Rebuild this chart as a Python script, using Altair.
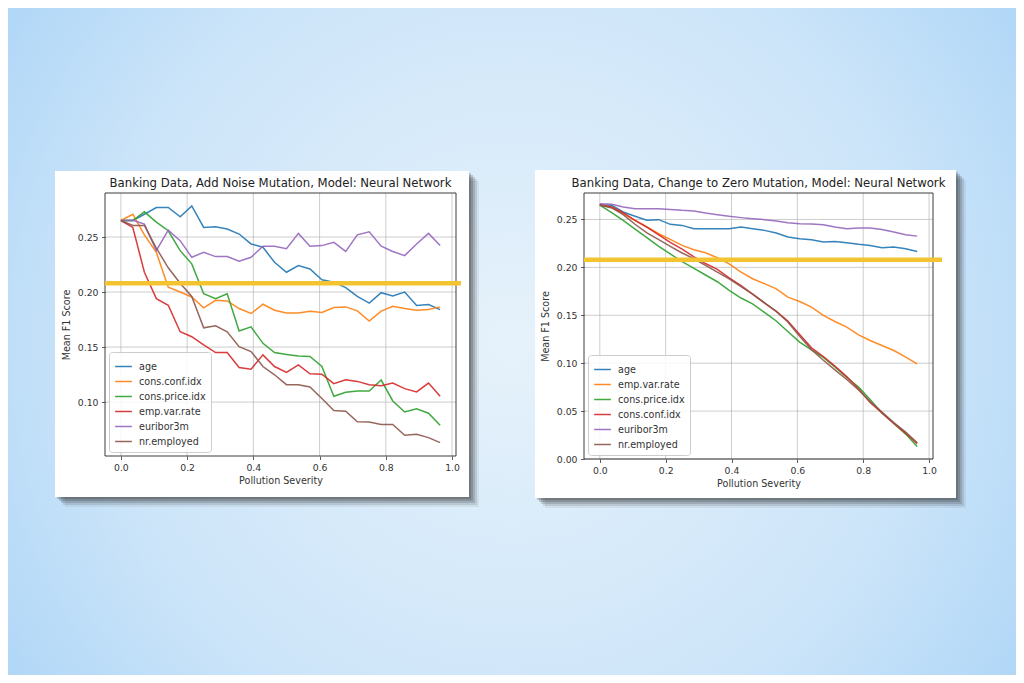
import altair as alt
import pandas as pd

# ---------------- data ----------------
severity = [0.0, 0.036, 0.071, 0.107, 0.143, 0.179, 0.214, 0.25, 0.286, 0.321,
            0.357, 0.393, 0.429, 0.464, 0.5, 0.536, 0.571, 0.607, 0.643, 0.679,
            0.714, 0.75, 0.786, 0.821, 0.857, 0.893, 0.929, 0.964]

# Left panel: Add Noise Mutation
noise_age = [0.265, 0.265, 0.2707, 0.2768, 0.2768, 0.2684, 0.2783, 0.2587, 0.2593, 0.2572,
             0.2527, 0.2437, 0.2407, 0.2270, 0.218, 0.2241, 0.221, 0.2112, 0.209, 0.204,
             0.196, 0.190, 0.1994, 0.1964, 0.200, 0.1877, 0.1886, 0.184]
noise_cons_conf = [0.265, 0.2707, 0.252, 0.236, 0.2045, 0.2000, 0.1955, 0.1856, 0.1925, 0.1919,
                   0.1850, 0.1805, 0.1889, 0.1835, 0.181, 0.181, 0.1826, 0.1814, 0.1859, 0.1865,
                   0.1829, 0.1736, 0.1826, 0.1871, 0.185, 0.1835, 0.1841, 0.1865]
noise_cons_price = [0.265, 0.265, 0.2729, 0.2635, 0.2557, 0.2376, 0.2256, 0.1985, 0.194, 0.1985,
                    0.1646, 0.1684, 0.1534, 0.145, 0.1433, 0.1418, 0.1414, 0.1323, 0.1053, 0.109,
                    0.110, 0.110, 0.120, 0.101, 0.091, 0.094, 0.0899, 0.079]
noise_emp_var = [0.265, 0.2587, 0.218, 0.194, 0.188, 0.1639, 0.1594, 0.1519, 0.145, 0.145,
                 0.1314, 0.1299, 0.1429, 0.1323, 0.1269, 0.1338, 0.1257, 0.1254, 0.1167, 0.1203,
                 0.1188, 0.1158, 0.1149, 0.1173, 0.1122, 0.1092, 0.1173, 0.1053]
noise_euribor = [0.265, 0.2653, 0.2617, 0.2377, 0.2563, 0.2467, 0.2316, 0.2361, 0.2322, 0.2322,
                 0.2280, 0.2316, 0.2416, 0.2416, 0.2394, 0.2533, 0.2416, 0.2422, 0.2452, 0.237,
                 0.252, 0.2548, 0.2416, 0.2368, 0.2331, 0.2437, 0.2533, 0.2422]
noise_nr_emp = [0.265, 0.2605, 0.2605, 0.240, 0.222, 0.208, 0.196, 0.1675, 0.1693, 0.1639,
                0.1504, 0.1459, 0.1323, 0.1248, 0.1158, 0.1158, 0.1137, 0.1032, 0.0923, 0.0917,
                0.0821, 0.0818, 0.0797, 0.0797, 0.0698, 0.0707, 0.0677, 0.0631]

# Right panel: Change to Zero Mutation
zero_age = [0.265, 0.2648, 0.2578, 0.2533, 0.2491, 0.2498, 0.2449, 0.2438, 0.2403, 0.2403,
            0.2403, 0.2403, 0.2421, 0.2403, 0.2386, 0.2358, 0.2316, 0.2299, 0.2289, 0.2264,
            0.2271, 0.2257, 0.224, 0.2229, 0.2205, 0.2212, 0.2194, 0.2166]
zero_emp_var = [0.265, 0.263, 0.256, 0.2491, 0.2421, 0.2351, 0.2292, 0.2229, 0.2184, 0.2152,
                0.21, 0.2037, 0.1951, 0.1881, 0.183, 0.1776, 0.1689, 0.1644, 0.1585, 0.1498,
                0.1435, 0.1376, 0.1296, 0.1237, 0.1184, 0.1132, 0.1063, 0.0993]
zero_cons_price = [0.265, 0.257, 0.249, 0.240, 0.231, 0.222, 0.214, 0.206, 0.199, 0.192,
                   0.185, 0.176, 0.168, 0.162, 0.153, 0.144, 0.133, 0.122, 0.114, 0.106,
                   0.096, 0.085, 0.075, 0.062, 0.048, 0.037, 0.026, 0.013]
zero_cons_conf = [0.265, 0.263, 0.257, 0.249, 0.242, 0.234, 0.226, 0.219, 0.211, 0.204,
                  0.198, 0.189, 0.181, 0.172, 0.163, 0.154, 0.144, 0.130, 0.116, 0.107,
                  0.097, 0.086, 0.073, 0.059, 0.048, 0.037, 0.027, 0.016]
zero_euribor = [0.2665, 0.2658, 0.263, 0.2612, 0.2612, 0.2612, 0.2605, 0.2595, 0.2588, 0.2567,
                0.255, 0.2533, 0.2519, 0.2508, 0.2498, 0.2483, 0.2466, 0.2455, 0.2452, 0.2445,
                0.2421, 0.2403, 0.241, 0.241, 0.2396, 0.2368, 0.234, 0.2326]
zero_nr_emp = [0.265, 0.262, 0.255, 0.245, 0.236, 0.229, 0.222, 0.215, 0.209, 0.202,
               0.195, 0.188, 0.180, 0.172, 0.163, 0.154, 0.143, 0.128, 0.114, 0.103,
               0.093, 0.083, 0.072, 0.060, 0.049, 0.038, 0.028, 0.017]

noise_order = ["age", "cons.conf.idx", "cons.price.idx", "emp.var.rate", "euribor3m", "nr.employed"]
noise_series = [noise_age, noise_cons_conf, noise_cons_price, noise_emp_var, noise_euribor, noise_nr_emp]
zero_order = ["age", "emp.var.rate", "cons.price.idx", "cons.conf.idx", "euribor3m", "nr.employed"]
zero_series = [zero_age, zero_emp_var, zero_cons_price, zero_cons_conf, zero_euribor, zero_nr_emp]
tab10 = ["#1f77b4", "#ff7f0e", "#2ca02c", "#d62728", "#9467bd", "#8c564b"]

x_ticks = [0.0, 0.2, 0.4, 0.6, 0.8, 1.0]
noise_y_ticks = [0.10, 0.15, 0.20, 0.25]
zero_y_ticks = [0.00, 0.05, 0.10, 0.15, 0.20, 0.25]
threshold = 0.208

noise_title = "Banking Data, Add Noise Mutation, Model: Neural Network"
zero_title = "Banking Data, Change to Zero Mutation, Model: Neural Network"

FONT = "DejaVu Sans"
one = pd.DataFrame({"k": [0]})

bg_gradient = {
    "gradient": "radial",
    "stops": [
        {"offset": 0.0, "color": "#e6f2fb"},
        {"offset": 0.55, "color": "#cde5f9"},
        {"offset": 1.0, "color": "#a0cff6"},
    ],
    "x1": 0.5, "y1": 0.5, "r1": 0.0,
    "x2": 0.5, "y2": 0.5, "r2": 0.72,
}


def deco_rect(x0, x1, y0, y1, **kw):
    return alt.Chart(one).mark_rect(**kw).encode(
        x=alt.value(x0), x2=alt.value(x1), y=alt.value(y0), y2=alt.value(y1)
    )


def build_panel(order, series, title, y_domain, y_ticks, w, h, card, yellow_ext, background=None):
    rows = []
    for name, vals in zip(order, series):
        for s, v in zip(severity, vals):
            rows.append({"severity": s, "f1": v, "feature": name})
    df = pd.DataFrame(rows)

    xs = alt.Scale(domain=[-0.048, 1.012], nice=False, zero=False)
    ys = alt.Scale(domain=y_domain, nice=False, zero=False)
    ax_x = alt.Axis(values=x_ticks, format=".1f", title="Pollution Severity", zindex=1)
    ax_y = alt.Axis(values=y_ticks, format=".2f", title="Mean F1 Score", zindex=1)

    layers = []
    if background is not None:
        layers.append(deco_rect(*background, fill=bg_gradient))
    cx0, cx1, cy0, cy1 = card
    for d, op in [(2, 0.22), (4, 0.2), (6, 0.17), (8, 0.12), (10, 0.07)]:
        layers.append(deco_rect(cx0 + d, cx1 + d, cy0 + d, cy1 + d, color="#262626", opacity=op))
    layers.append(deco_rect(cx0, cx1, cy0, cy1, color="white"))

    grid_x = alt.Chart(pd.DataFrame({"severity": x_ticks})).mark_rule(
        color="#b0b0b0", strokeWidth=0.8, opacity=0.8
    ).encode(x=alt.X("severity:Q", scale=xs, axis=ax_x))
    grid_y = alt.Chart(pd.DataFrame({"f1": y_ticks})).mark_rule(
        color="#b0b0b0", strokeWidth=0.8, opacity=0.8
    ).encode(y=alt.Y("f1:Q", scale=ys, axis=ax_y))
    layers += [grid_x, grid_y]

    lines = alt.Chart(df).mark_line(strokeWidth=1.5, opacity=0.9).encode(
        x=alt.X("severity:Q", scale=xs, axis=ax_x),
        y=alt.Y("f1:Q", scale=ys, axis=ax_y),
        color=alt.Color("feature:N", scale=alt.Scale(domain=order, range=tab10),
                        sort=order,
                        legend=alt.Legend(orient="bottom-left", title=None, offset=4)),
        order=alt.Order("severity:Q"),
    )
    layers.append(lines)

    layers.append(deco_rect(0, w, 0, h, fill="white", fillOpacity=0,
                            stroke="#262626", strokeWidth=0.9))

    yellow = alt.Chart(pd.DataFrame({"f1": [threshold]})).mark_rule(
        color="#f4c430", strokeWidth=4.5
    ).encode(y=alt.Y("f1:Q", scale=ys, axis=ax_y),
             x=alt.value(0), x2=alt.value(w + yellow_ext))
    layers.append(yellow)

    ttl = alt.Chart(one).mark_text(
        text=title, font=FONT, fontSize=11.7, color="#222222",
        align="center", baseline="middle"
    ).encode(x=alt.value(w / 2), y=alt.value(-10.5))
    layers.append(ttl)

    return alt.layer(*layers).properties(width=w, height=h)


left = build_panel(noise_order, noise_series, noise_title, [0.051, 0.290], noise_y_ticks,
                   351, 263, card=(-50, 364, -22, 304), yellow_ext=5,
                   background=(-97, 911, -185, 482))
right = build_panel(zero_order, zero_series, zero_title, [0.0, 0.2776], zero_y_ticks,
                    349, 266, card=(-49, 372, -23, 305), yellow_ext=9)

chart = alt.hconcat(left, right, spacing=128, bounds="flush", padding=0).resolve_scale(
    color="independent", x="independent", y="independent"
).configure_view(strokeWidth=0).configure_axis(
    grid=False, domain=False,
    labelFont=FONT, labelFontSize=9.3, labelColor="#333333",
    tickColor="#333333", tickSize=3.5, tickWidth=0.8, labelPadding=3.5,
    titleFont=FONT, titleFontSize=9.6, titleFontWeight="normal", titleColor="#333333",
).configure_axisX(titlePadding=3).configure_axisY(titlePadding=6).configure_legend(
    labelFont=FONT, labelFontSize=9.6, labelColor="#333333",
    symbolType="stroke", symbolSize=280, symbolStrokeWidth=1.5,
    fillColor="rgba(255,255,255,0.85)", strokeColor="#cccccc", cornerRadius=3,
    padding=5, rowPadding=0, labelOffset=6,
)

chart.save("out.html", embed_options={"renderer": "svg", "actions": False})
